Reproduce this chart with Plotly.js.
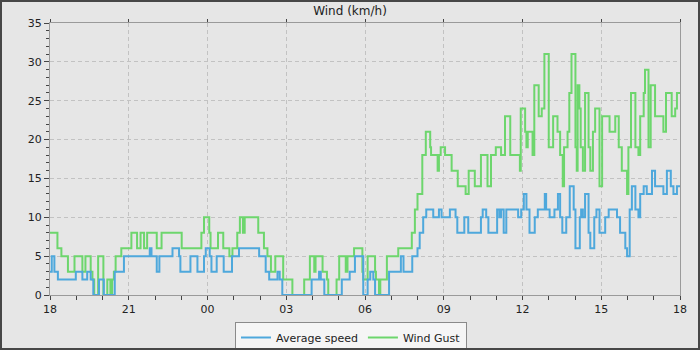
<!DOCTYPE html>
<html>
<head>
<meta charset="utf-8">
<script src="https://cdn.plot.ly/plotly-3.0.1.min.js"></script>
<style>
html,body{margin:0;padding:0;background:#474747;width:700px;height:350px;overflow:hidden;}
#chart{position:absolute;left:2px;top:2px;width:696px;height:346px;}
</style>
</head>
<body>
<div id="chart"></div>
<script>
// Minutes after 18:00 (start of the 24 h window) at which each reading changes, and the reading
const avgMinutes = [0,4,10,18,59,74,85,93,99,112,123,148,169,228,232,244,250,280,295,298,321,337,352,356,365,369,381,397,416,432,478,493,501,520,525,531,598,615,619,627,667,685,697,716,726,732,739,743,775,802,808,828,840,845,853,860,876,889,895,914,927,931,947,956,985,989,997,1002,1022,1027,1031,1037,1043,1070,1077,1083,1089,1096,1108,1115,1131,1134,1142,1153,1161,1166,1171,1180,1188,1197,1201,1211,1214,1218,1223,1231,1235,1244,1249,1256,1269,1277,1296,1303,1315,1319,1325,1330,1338,1345,1349,1357,1364,1376,1383,1402,1410,1419,1425,1433,1440];
const avgSpeed = [3,5,3,2,3,2,3,2,0,2,0,3,5,6,5,3,5,6,5,3,5,3,5,6,5,3,5,3,5,6,5,3,2,3,2,0,2,3,2,0,2,3,5,0,2,3,2,0,3,5,3,5,6,8,10,11,10,11,10,11,10,8,10,8,10,11,10,8,11,10,11,8,11,10,11,13,11,8,10,11,13,11,10,11,13,10,8,10,14,11,6,10,11,10,13,8,6,10,11,8,10,11,10,8,6,5,11,14,11,10,13,14,13,16,14,13,16,14,13,14,14];

const gustMinutes = [0,17,26,41,56,74,81,93,97,101,110,122,131,138,142,146,150,163,186,199,207,215,222,244,255,301,346,352,364,367,384,396,410,417,428,434,441,445,476,489,497,505,515,533,554,581,594,604,607,623,633,636,655,661,676,680,695,714,716,726,743,745,752,755,770,796,827,834,840,851,859,869,871,886,889,893,903,918,932,950,957,971,985,1000,1008,1019,1031,1040,1052,1074,1076,1086,1089,1092,1103,1107,1117,1124,1130,1140,1150,1160,1166,1172,1175,1183,1187,1192,1201,1204,1206,1210,1213,1218,1223,1231,1235,1241,1246,1256,1262,1279,1292,1300,1307,1319,1322,1328,1338,1345,1349,1357,1360,1368,1373,1383,1402,1408,1421,1429,1433,1440];
const windGust = [8,6,5,3,5,3,5,3,2,0,5,0,2,0,2,3,5,6,8,6,8,6,8,6,8,6,8,10,8,6,8,6,5,6,8,10,8,10,8,6,5,3,5,2,0,2,5,3,5,3,2,0,2,5,3,5,6,3,2,5,3,2,0,2,5,6,8,11,13,18,21,19,18,16,18,19,18,16,14,13,16,14,18,14,18,19,18,23,18,16,24,21,19,21,18,27,23,24,31,19,23,21,18,14,19,21,26,31,19,16,27,24,19,16,26,19,16,21,24,14,23,21,23,19,16,13,19,26,19,18,23,26,29,19,27,23,21,26,23,24,26,26];

const yTicks = [0,5,10,15,20,25,30,35];
const seriesNames = ['Average speed','Wind Gust'];
const seriesColors = ['#4ea8dc','#6dd66d'];

const baseMs = Date.UTC(2024,4,1,18,0,0);
function toDate(min){
  return new Date(baseMs + min*60000).toISOString().slice(0,19).replace('T',' ');
}
const startDate = toDate(0), endDate = toDate(24*60);
const font = 'DejaVu Sans, sans-serif';

const traces = [
  {x: gustMinutes.map(toDate), y: windGust, type:'scatter', mode:'lines', name: seriesNames[1],
   line:{shape:'hv', color: seriesColors[1], width:2}, hoverinfo:'skip'},
  {x: avgMinutes.map(toDate), y: avgSpeed, type:'scatter', mode:'lines', name: seriesNames[0],
   line:{shape:'hv', color: seriesColors[0], width:2}, hoverinfo:'skip'},
  {x: [startDate], y: [null], xaxis:'x2', type:'scatter', mode:'lines', showlegend:false, hoverinfo:'skip'}
];

const layout = {
  width:696, height:346,
  margin:{l:48, r:18, t:21, b:53, autoexpand:false},
  paper_bgcolor:'#e6e6e6', plot_bgcolor:'#e6e6e6',
  font:{family:font, size:11, color:'#222'},
  showlegend:true,
  title:{text:'Wind (km/h)', font:{family:font, size:12, color:'#222'}, x:0.5, xref:'container', xanchor:'center', y:1-9/346, yref:'container', yanchor:'middle'},
  xaxis:{
    type:'date', range:[startDate, endDate], tick0:startDate, dtick:3*3600000, tickformat:'%H',
    ticks:'outside', ticklen:4, tickcolor:'#444', tickwidth:1,
    showline:true, linecolor:'#9a9a9a', linewidth:1, mirror:true,
    showgrid:true, gridcolor:'#c2c2c2', griddash:'4px,3px', gridwidth:1,
    zeroline:false, tickfont:{family:font, size:11, color:'#222'},
    minor:{dtick:3600000, tick0:startDate, ticks:'outside', ticklen:4, tickcolor:'#444', showgrid:false},
    fixedrange:true, automargin:false
  },
  xaxis2:{
    type:'date', overlaying:'x', side:'top', range:[startDate, endDate], tick0:startDate, dtick:3*3600000,
    ticks:'outside', ticklen:3, tickcolor:'#444', showticklabels:false, showgrid:false, showline:false,
    zeroline:false, fixedrange:true, automargin:false
  },
  yaxis:{
    range:[0,35], tickvals:yTicks, ticktext:yTicks.map(String),
    ticks:'outside', ticklen:5, tickcolor:'#444', tickwidth:1,
    showline:true, linecolor:'#9a9a9a', linewidth:1, mirror:true,
    showgrid:true, gridcolor:'#c2c2c2', griddash:'4px,3px', gridwidth:1,
    zeroline:false, tickfont:{family:font, size:11, color:'#222'},
    minor:{dtick:1, tick0:0, ticks:'outside', ticklen:3, tickcolor:'#444', showgrid:false},
    fixedrange:true, automargin:false
  },
  legend:{
    orientation:'h', traceorder:'reversed',
    x:(351-50)/630, xanchor:'center',
    y:-27/272, yanchor:'top',
    bgcolor:'#f5f5f5', bordercolor:'#8a8a8a', borderwidth:1,
    font:{family:font, size:11, color:'#222'},
    itemwidth:30
  }
};

Plotly.newPlot('chart', traces, layout, {staticPlot:true, displayModeBar:false});
</script>
</body>
</html>
